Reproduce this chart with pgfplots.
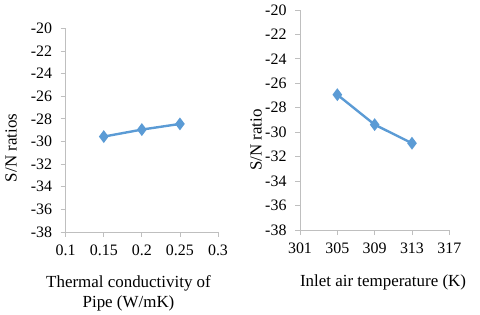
\documentclass[border=0pt]{standalone}
\usepackage{pgfplots}
\pgfplotsset{compat=1.18}
\usepackage{fontspec}
\setmainfont{Liberation Serif}
\definecolor{xlblue}{HTML}{5B9BD5}
\definecolor{axgray}{HTML}{BFBFBF}
\newcommand{\tkfont}{\fontsize{16}{18}\selectfont}
\pgfplotsset{
  myax/.style={
    scale only axis,
    anchor=south west,
    axis x line*=bottom,
    axis y line*=left,
    axis line style={axgray, line width=0.8pt},
    tick style={axgray, line width=0.8pt},
    major tick length=5bp,
    tick align=outside,
    ymin=-38, ymax=-20,
    ytick={-38,-36,...,-20},
    yticklabels={-38,-36,-34,-32,-30,-28,-26,-24,-22,-20},
    yticklabel style={font=\tkfont, text=black, xshift=-5bp},
    xticklabel style={font=\tkfont, text=black, yshift=-4bp},
    /pgf/number format/assume math mode=true,
  },
}
\begin{document}
\begin{tikzpicture}[x=1bp,y=1bp]
\begin{axis}[myax, at={(65.7bp,83bp)}, width=152.3bp, height=203.7bp,
  xmin=0.1, xmax=0.3, xtick={0.1,0.15,0.2,0.25,0.3},
  xticklabels={0.1,0.15,0.2,0.25,0.3}]
\addplot[xlblue, line width=2.4pt, mark=diamond*, mark size=4.5pt, mark options={solid}] coordinates {
(0.15,-29.57) (0.2,-28.95) (0.25,-28.45)};
\end{axis}
\begin{axis}[myax, at={(300bp,85bp)}, width=149.3bp, height=220bp,
  xmin=301, xmax=317, xtick={301,305,309,313,317},
  xticklabels={301,305,309,313,317}]
\addplot[xlblue, line width=2.4pt, mark=diamond*, mark size=4.5pt, mark options={solid}] coordinates {
(305,-26.93) (309,-29.38) (313,-30.9)};
\end{axis}
\node[rotate=90, font=\fontsize{17}{19}\selectfont] at (11bp,167bp) {S/N ratios};
\node[rotate=90, font=\fontsize{17}{19}\selectfont] at (256bp,175bp) {S/N ratio};
\node[font=\fontsize{17}{19}\selectfont] at (128.5bp,32bp) {Thermal conductivity of};
\node[font=\fontsize{17}{19}\selectfont] at (128.5bp,12bp) {Pipe (W/mK)};
\node[font=\fontsize{17}{19}\selectfont] at (383bp,33bp) {Inlet air temperature (K)};
\pgfresetboundingbox
\useasboundingbox (0bp,0bp) rectangle (480bp,315bp);
\end{tikzpicture}
\end{document}
